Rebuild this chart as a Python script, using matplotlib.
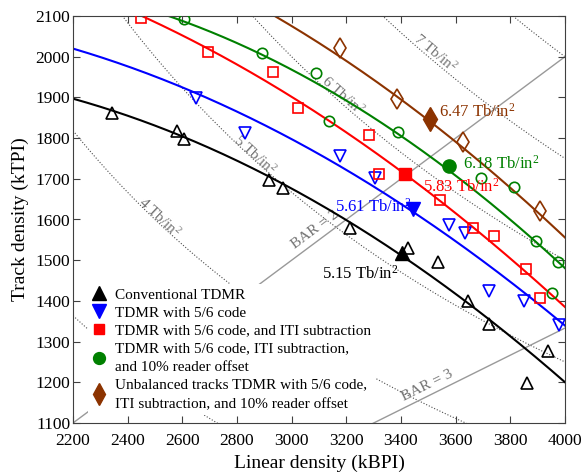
import numpy as np
import matplotlib.pyplot as plt

plt.rcParams['font.family'] = ['Liberation Serif', 'DejaVu Serif']
plt.rcParams['mathtext.fontset'] = 'custom'
plt.rcParams['mathtext.rm'] = 'Liberation Serif'
plt.rcParams['mathtext.it'] = 'Liberation Serif:italic'

conv_bpi = [2343, 2580, 2606, 2917, 2968, 3213, 3426, 3536, 3645, 3722, 3938, 3861]
conv_tpi = [1862, 1817, 1798, 1697, 1677, 1579, 1530, 1496, 1400, 1343, 1277, 1198]
code_bpi = [2650, 2829, 3177, 3305, 3576, 3634, 3722, 3850, 3978]
code_tpi = [1899, 1812, 1756, 1701, 1587, 1567, 1424, 1399, 1341]
iti_bpi = [2449, 2694, 2932, 3023, 3283, 3320, 3543, 3664, 3740, 3858, 3909]
iti_tpi = [2095, 2012, 1963, 1874, 1808, 1713, 1648, 1580, 1559, 1478, 1407]
off_bpi = [2606, 2892, 3089, 3137, 3389, 3693, 3814, 3894, 3975, 3953]
off_tpi = [2092, 2010, 1959, 1843, 1816, 1701, 1680, 1547, 1496, 1419]
unb_bpi = [3177, 3385, 3627, 3909]
unb_tpi = [2021, 1896, 1790, 1621]

# points along the fitted curves
conv_fit_bpi = [2200, 2606, 3030, 3404, 4000]
conv_fit_tpi = [1899, 1800, 1660, 1518, 1198]
code_fit_bpi = [2200, 2650, 3030, 3444, 4000]
code_fit_tpi = [2025, 1899, 1789, 1626, 1336]
iti_fit_bpi = [2452, 3030, 3415, 4000]
iti_fit_tpi = [2100, 1889, 1711, 1385]
off_fit_bpi = [2566, 3030, 3576, 4000]
off_fit_tpi = [2100, 1947, 1731, 1476]
unb_fit_bpi = [2940, 3385, 3506, 4000]
unb_fit_tpi = [2100, 1896, 1847, 1555]

# best operating points
best_bpi = [3404, 3444, 3415, 3576, 3506]
best_tpi = [1518, 1626, 1711, 1731, 1847]
best_labels = ['5.15', '5.61', '5.83', '6.18', '6.47']

names = ['Conventional TDMR',
         'TDMR with 5/6 code',
         'TDMR with 5/6 code, and ITI subtraction',
         'TDMR with 5/6 code, ITI subtraction,\nand 10% reader offset',
         'Unbalanced tracks TDMR with 5/6 code,\nITI subtraction, and 10% reader offset']
colors = ['black', '#0000ff', '#ff0000', '#008000', '#8c3300']
markers = ['^', 'v', 's', 'o', 'd']
open_ms = [8.5, 8.5, 6.5, 7.5, 10]
fill_ms = [10.5, 10.5, 8.5, 9.5, 12]

areal = [3, 4, 5, 6, 7, 8]
bars = [2, 3]

fig = plt.figure(figsize=(5.82, 4.73), dpi=100)
ax = fig.add_axes([73 / 582, 1 - 423 / 473, 492 / 582, 407 / 473])
ax.set_xlim(2200, 4000)
ax.set_ylim(1100, 2100)

xx = np.linspace(2200, 4000, 400)

def disp_angle(x0, y0, x1, y1):
    p0 = ax.transData.transform((x0, y0))
    p1 = ax.transData.transform((x1, y1))
    return np.degrees(np.arctan2(p1[1] - p0[1], p1[0] - p0[0]))

# constant areal density curves
for a in areal:
    ax.plot(xx, a * 1e6 / xx, ':', color='0.3', lw=0.8, zorder=1)
iso_pos = {4: (2515, 1606), 5: (2866, 1758), 6: (3188, 1903), 7: (3525, 2009)}
for a, (px, py) in iso_pos.items():
    ang = disp_angle(px - 10, a * 1e6 / (px - 10), px + 10, a * 1e6 / (px + 10))
    ax.text(px, py, '%d Tb/in$^2$' % a, color='0.45', fontsize=11,
            rotation=ang, rotation_mode='anchor', ha='center', va='center', zorder=1)

# constant bit aspect ratio lines
for b in bars:
    ax.plot(xx, xx / b, '-', color='0.6', lw=1, zorder=1)
bar_pos = {2: (3085, 1574), 3: (3495, 1191)}
for b, (px, py) in bar_pos.items():
    ang = disp_angle(3000, 3000 / b, 3500, 3500 / b)
    ax.text(px, py, 'BAR = %d' % b, color='0.45', fontsize=11,
            rotation=ang, rotation_mode='anchor', ha='center', va='center', zorder=1)

series = [(conv_bpi, conv_tpi, conv_fit_bpi, conv_fit_tpi),
          (code_bpi, code_tpi, code_fit_bpi, code_fit_tpi),
          (iti_bpi, iti_tpi, iti_fit_bpi, iti_fit_tpi),
          (off_bpi, off_tpi, off_fit_bpi, off_fit_tpi),
          (unb_bpi, unb_tpi, unb_fit_bpi, unb_fit_tpi)]

handles = []
for i, (bx, ty, fx, fy) in enumerate(series):
    c = colors[i]
    coef = np.polyfit(fx, fy, 2)
    ax.plot(xx, np.polyval(coef, xx), '-', color=c, lw=1.5, zorder=2)
    ax.plot(bx, ty, markers[i], ms=open_ms[i], mfc='none', mec=c, mew=1.2, ls='none', zorder=3)
    h, = ax.plot(best_bpi[i], best_tpi[i], markers[i], ms=fill_ms[i], color=c, ls='none',
                 label=names[i], zorder=4)
    handles.append(h)

# labels of the best points (baseline positions)
lab_pos = [(3111, 1454), (3160, 1619), (3481, 1668), (3627, 1724), (3539, 1852)]
for i, (px, py) in enumerate(lab_pos):
    ax.text(px, py, best_labels[i] + ' Tb/in$^2$', color=colors[i], fontsize=12,
            ha='left', va='baseline', zorder=5)

leg = ax.legend(handles=handles, loc='lower left', bbox_to_anchor=(0.03, 0.02),
                borderaxespad=0, borderpad=0.25, fontsize=11, frameon=True,
                facecolor='white', edgecolor='none', framealpha=1, fancybox=False,
                handlelength=1.0, handletextpad=0.55, labelspacing=0.28,
                markerscale=0.9)
for t in leg.get_texts():
    t.set_linespacing(1.65)
leg.set_zorder(6)

ax.set_xticks(np.arange(2200, 4001, 200))
ax.set_yticks(np.arange(1100, 2101, 100))
ax.tick_params(direction='in', top=True, right=True, length=5, labelsize=12.5,
               color='0.25')
ax.tick_params(axis='x', pad=7)
ax.tick_params(axis='y', pad=2)
for s in ax.spines.values():
    s.set_color('0.25')
ax.set_xlabel('Linear density (kBPI)', fontsize=14, labelpad=4)
ax.set_ylabel('Track density (kTPI)', fontsize=14, labelpad=5)

fig.savefig('out.png', dpi=100)
